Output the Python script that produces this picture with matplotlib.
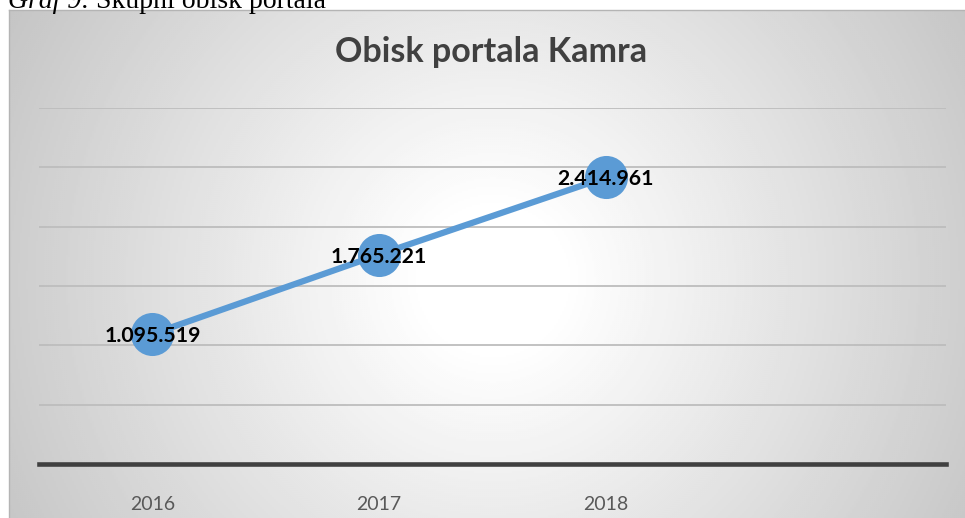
import numpy as np
import matplotlib
matplotlib.use("Agg")
import matplotlib.pyplot as plt

# data
years = ["2016", "2017", "2018", ""]
visits = [1095519, 1765221, 2414961]
labels = ["1.095.519", "1.765.221", "2.414.961"]
grid_values = [0, 500000, 1000000, 1500000, 2000000, 2500000, 3000000]

W, H = 965, 518
fig = plt.figure(figsize=(W / 100, H / 100), dpi=100)

# chart frame with radial gradient (white in the middle, gray at the edges)
fx0, fx1, fy0, fy1 = 9, 975, 10, 548   # frame in pixels, top-down
bg = fig.add_axes([fx0 / W, (H - fy1) / H, (fx1 - fx0) / W, (fy1 - fy0) / H])
px, py = np.meshgrid(np.arange(fx0, fx1, 2.0), np.arange(fy0, fy1, 2.0))
r = np.hypot(px - 492, py - 279)
drop = 59 * np.clip((r - 70) / 490.0, 0, 1)
shade = (255 - drop) / 255.0
bg.imshow(shade, cmap="gray", vmin=0, vmax=1, aspect="auto",
          extent=[0, 1, 0, 1], origin="upper", interpolation="bilinear")
bg.set_xlim(0, 1)
bg.set_ylim(0, 1)
bg.set_xticks([])
bg.set_yticks([])
for s in ["right", "bottom"]:
    bg.spines[s].set_visible(False)
for s in ["left", "top"]:
    bg.spines[s].set_color("#b4b4b4")
    bg.spines[s].set_linewidth(1.0)

# caption above the frame (cut off by the page edge)
cap1 = fig.text(8 / W, 1 - 8 / H, "Graf 9:", family="Liberation Serif", style="italic",
                fontsize=20, va="baseline", ha="left", color="black", zorder=0)
fig.canvas.draw()
bb = cap1.get_window_extent()
fig.text((bb.x1 + 6) / W, 1 - 8 / H, "Skupni obisk portala", family="Liberation Serif",
         fontsize=20, va="baseline", ha="left", color="black", zorder=0)

# plot area
ax = fig.add_axes([39 / W, (H - 464) / H, (946 - 39) / W, (464 - 108) / H])
ax.set_facecolor("none")
x = np.arange(len(years))
ax.plot(x[:len(visits)], visits, color="#5b9bd5", lw=4.5, marker="o",
        markersize=31, markeredgewidth=0, solid_capstyle="round", zorder=3)
for xi, v, t in zip(x, visits, labels):
    ax.text(xi, v, t, ha="center", va="center_baseline", family="Lato",
            fontweight="bold", fontsize=15.3, color="black", zorder=4)

ax.set_xlim(-0.5, len(years) - 0.5)
ax.set_ylim(0, 3000000)
ax.set_yticks(grid_values)
ax.set_yticklabels([])
ax.set_xticks(x)
ax.set_xticklabels(years, family="Lato", fontsize=14, color="#595959")
ax.tick_params(axis="both", length=0)
ax.tick_params(axis="x", pad=23)
ax.yaxis.grid(True, color="#bdbdbd", lw=1.3)
ax.set_axisbelow(True)
for s in ["left", "right", "top"]:
    ax.spines[s].set_visible(False)
ax.spines["bottom"].set_color("#404040")
ax.spines["bottom"].set_linewidth(3.3)
ax.spines["bottom"].set_zorder(5)

fig.text(491 / W, 1 - 62 / H, "Obisk portala Kamra", ha="center", va="baseline",
         family="Lato", fontweight="bold", fontsize=24.5, color="#404040")

fig.savefig("out.png", dpi=100)
